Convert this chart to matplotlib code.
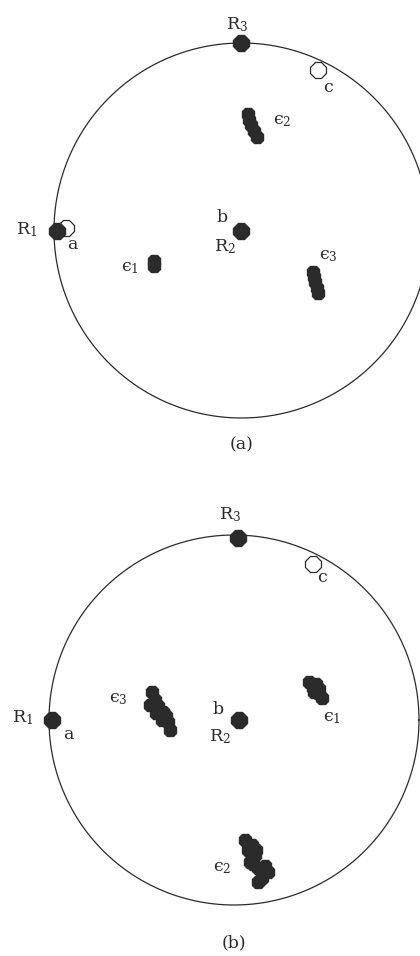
import matplotlib
matplotlib.use("Agg")
import matplotlib.pyplot as plt
import numpy as np

plt.rcParams['font.family'] = ['DejaVu Serif']
plt.rcParams['mathtext.fontset'] = 'dejavuserif'

COR = "#2b2b2b"

# Painel (a) - coordenadas no disco unitario
A_R = [(0.0, 1.0), (-0.985, 0.0), (0.0, 0.0)]            # R3, R1, R2
A_ABERTOS = [(0.408, 0.856), (-0.935, 0.013)]            # c, a
A_EPS1 = [(-0.467, -0.160), (-0.467, -0.190)]
A_EPS2 = [(0.035, 0.620), (0.040, 0.590), (0.050, 0.563), (0.065, 0.530), (0.083, 0.500)]
A_EPS3 = [(0.381, -0.221), (0.388, -0.250), (0.392, -0.275), (0.400, -0.305), (0.408, -0.333)]
A_ROTULOS = [(-0.024, 1.096, r"R$_3$"), (0.461, 0.763, "c"), (0.216, 0.589, r"ϵ$_2$"),
             (-1.144, 0.003, r"R$_1$"), (-0.904, -0.077, "a"), (-0.104, 0.067, "b"),
             (-0.088, -0.088, r"R$_2$"), (-0.595, -0.195, r"ϵ$_1$"),
             (0.461, -0.131, r"ϵ$_3$")]

# Painel (b)
B_R = [(0.02, 0.985), (-0.984, 0.0), (0.027, 0.0)]
B_ABERTOS = [(0.427, 0.843)]
B_EPS1 = [(0.405, 0.205), (0.427, 0.173), (0.454, 0.146), (0.476, 0.119), (0.443, 0.195),
          (0.460, 0.170), (0.435, 0.150)]
B_EPS2 = [(0.059, -0.649), (0.097, -0.676), (0.114, -0.730), (0.086, -0.768), (0.130, -0.800),
          (0.184, -0.822), (0.151, -0.854), (0.130, -0.876), (0.119, -0.703), (0.075, -0.700),
          (0.100, -0.780), (0.165, -0.790)]
B_EPS3 = [(-0.443, 0.151), (-0.427, 0.108), (-0.411, 0.076), (-0.384, 0.043), (-0.357, -0.011),
          (-0.346, -0.054), (-0.389, 0.000), (-0.454, 0.081), (-0.420, 0.040), (-0.370, 0.020)]
B_ROTULOS = [(-0.022, 1.108, r"R$_3$"), (0.476, 0.768, "c"), (0.530, 0.011, r"ϵ$_1$"),
             (-0.627, 0.114, r"ϵ$_3$"), (-0.086, 0.059, "b"), (-0.076, -0.092, r"R$_2$"),
             (-1.141, 0.011, r"R$_1$"), (-0.897, -0.081, "a"), (-0.065, -0.800, r"ϵ$_2$")]


def painel(ax, centro, raio, topo, pontos_r, abertos, nuvens, rotulos, titulo, y_titulo):
    # limites para que o circulo caia na posicao certa (em pixels)
    largura, altura = 420, 478
    ax.set_xlim(-centro[0] / raio, (largura - centro[0]) / raio)
    ax.set_ylim(-(topo + altura - centro[1]) / raio, (centro[1] - topo) / raio)
    ax.axis("off")
    t = np.linspace(0, 2 * np.pi, 400)
    ax.plot(np.cos(t), np.sin(t), color=COR, linewidth=0.9)
    # marcadores abertos por baixo dos cheios
    xs, ys = zip(*abertos)
    ax.plot(xs, ys, linestyle="none", marker="8", markersize=12, markerfacecolor="white",
            markeredgecolor=COR, markeredgewidth=0.9)
    for nuvem in nuvens:
        xs, ys = zip(*nuvem)
        ax.plot(xs, ys, linestyle="none", marker="8", markersize=10, color=COR)
    xs, ys = zip(*pontos_r)
    ax.plot(xs, ys, linestyle="none", marker="8", markersize=13, color=COR)
    for x, y, s in rotulos:
        ax.text(x, y, s, fontsize=12.5, ha="center", va="center", color=COR)
    ax.text(0.0, y_titulo, titulo, fontsize=12.5, ha="center", va="center", color=COR)


fig = plt.figure(figsize=(4.2, 9.56), dpi=100)
ax_a = fig.add_axes([0, 1 - 478 / 956, 1, 478 / 956])
ax_b = fig.add_axes([0, 0, 1, 478 / 956])

painel(ax_a, (241.5, 230.5), 187.5, 0, A_R, A_ABERTOS, [A_EPS1, A_EPS2, A_EPS3],
       A_ROTULOS, "(a)", -1.144)
painel(ax_b, (234, 720), 185, 478, B_R, B_ABERTOS, [B_EPS1, B_EPS2, B_EPS3],
       B_ROTULOS, "(b)", -1.205)

fig.savefig("out.png", dpi=100)
plt.close()
